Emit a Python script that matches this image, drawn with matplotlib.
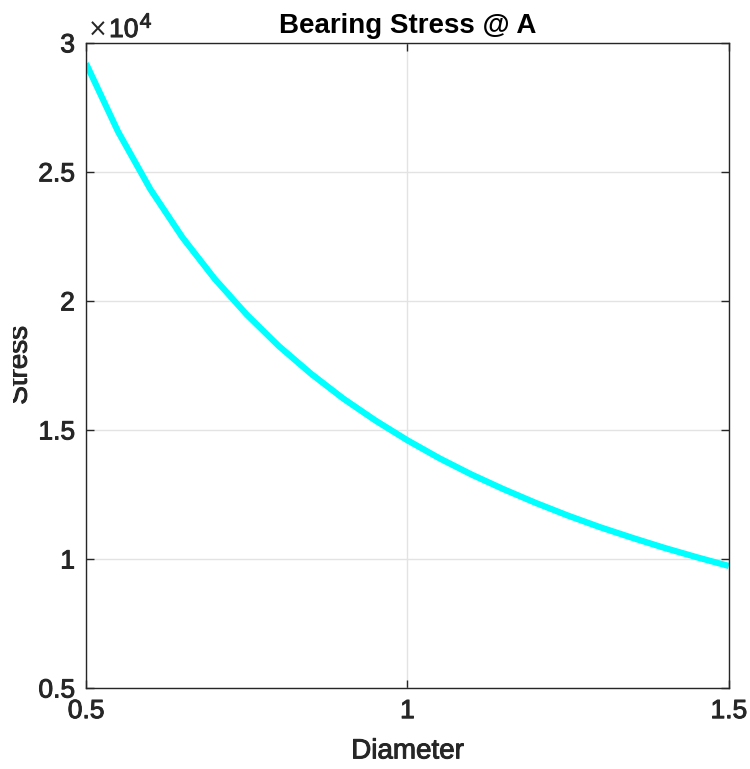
import matplotlib
matplotlib.use("Agg")
import matplotlib.pyplot as plt
import matplotlib.patheffects as pe
from matplotlib.ticker import FuncFormatter
from matplotlib.transforms import Bbox

# diameter vs bearing stress
diameter = [0.50, 0.55, 0.60, 0.65, 0.70, 0.75, 0.80, 0.85, 0.90, 0.95, 1.00,
            1.05, 1.10, 1.15, 1.20, 1.25, 1.30, 1.35, 1.40, 1.45, 1.50]
stress = [29200, 26550, 24330, 22460, 20860, 19470, 18250, 17180, 16220, 15370, 14600,
          13900, 13270, 12700, 12170, 11680, 11230, 10820, 10430, 10070, 9730]

x_ticks = [0.5, 1.0, 1.5]
y_ticks = [5000, 10000, 15000, 20000, 25000, 30000]

plt.rcParams["font.family"] = ["Liberation Sans", "DejaVu Sans"]
dark = "#262626"
heavy = [pe.withStroke(linewidth=0.7, foreground=dark)]

fig = plt.figure(figsize=(7.5, 7.69), dpi=100)
ax = fig.add_axes([0.1147, 0.1053, 0.857, 0.839])

ax.plot(diameter, stress, color="#00FFFF", linewidth=4.5, solid_capstyle="butt")

ax.set_xlim(0.5, 1.5)
ax.set_ylim(5000, 30000)
ax.set_xticks(x_ticks)
ax.set_yticks(y_ticks)
ax.xaxis.set_major_formatter(FuncFormatter(lambda v, p: f"{v:g}"))
ax.yaxis.set_major_formatter(FuncFormatter(lambda v, p: f"{v / 1e4:g}"))
ax.tick_params(direction="in", length=6, width=1, colors=dark, labelsize=19,
               top=True, right=True, pad=8)
for lbl in ax.get_xticklabels() + ax.get_yticklabels():
    lbl.set_path_effects(heavy)
ax.grid(True, color="#e3e3e3", linewidth=1)
ax.set_axisbelow(True)
for s in ax.spines.values():
    s.set_color(dark)
    s.set_linewidth(1)

ax.set_title("Bearing Stress @ A", fontsize=20, fontweight="bold", color="black", pad=7)
ax.set_xlabel("Diameter", fontsize=20, color=dark, labelpad=11, path_effects=heavy)
ax.set_ylabel("Stress", fontsize=20, color=dark, path_effects=heavy)
ax.yaxis.set_label_coords(-0.083, 0.5)
# the reference cuts the top of the rotated label off at the left edge
ax.yaxis.label.set_clip_box(Bbox([[13, 0], [750, 769]]))
ax.yaxis.label.set_clip_on(True)

# exponent label "×10^4" above the top-left corner
tx = ax.text(0.003, 1.009, "×", transform=ax.transAxes, fontsize=17,
             family=["DejaVu Sans"], color=dark, ha="left", va="baseline")
t10 = ax.annotate("10", xy=(1, 0), xycoords=tx, xytext=(1, 0), textcoords="offset points",
                  fontsize=19, color=dark, ha="left", va="bottom", path_effects=heavy)
ax.annotate("4", xy=(1, 1), xycoords=t10, xytext=(1, -3), textcoords="offset points",
            fontsize=15, color=dark, ha="left", va="center", path_effects=heavy)

fig.savefig("out.png", dpi=100)
